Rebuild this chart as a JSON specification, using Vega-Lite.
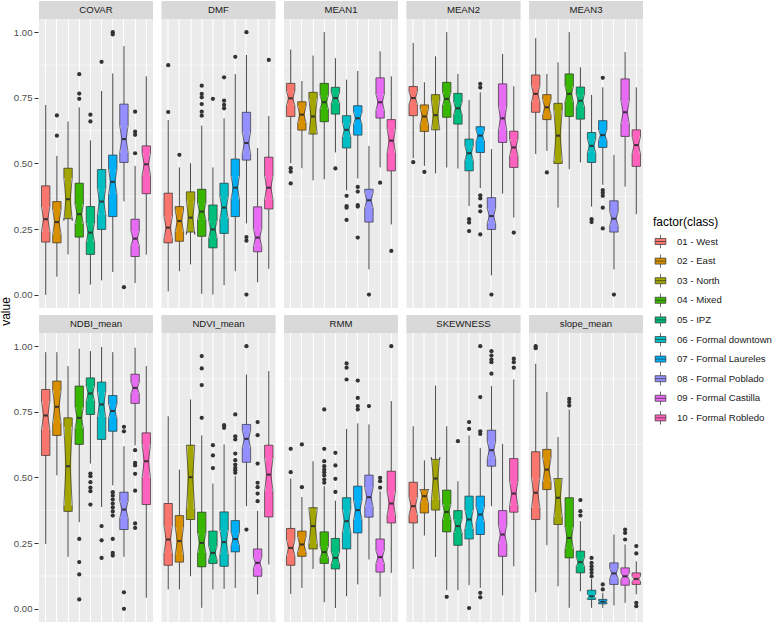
{
  "$schema": "https://vega.github.io/schema/vega-lite/v6.json",
  "padding": {"left": 0, "top": 1, "right": 0, "bottom": 0},
  "title": {"text": "value", "orient": "left", "anchor": "middle", "fontSize": 12, "fontWeight": "normal", "color": "#000000", "offset": 0},
  "data": {"values": [
    {"v":"COVAR","c":"01 - West","lo":0.0,"q1":0.201,"nlo":0.241,"md":0.288,"nhi":0.335,"q3":0.415,"hi":0.723,"out":[]},
    {"v":"COVAR","c":"02 - East","lo":0.069,"q1":0.198,"nlo":0.230,"md":0.277,"nhi":0.324,"q3":0.355,"hi":0.529,"out":[0.683,0.606]},
    {"v":"COVAR","c":"03 - North","lo":0.154,"q1":0.29,"nlo":0.283,"md":0.364,"nhi":0.445,"q3":0.482,"hi":0.66,"out":[]},
    {"v":"COVAR","c":"04 - Mixed","lo":0.004,"q1":0.22,"nlo":0.270,"md":0.307,"nhi":0.344,"q3":0.425,"hi":0.714,"out":[0.84,0.766,0.746]},
    {"v":"COVAR","c":"05 - IPZ","lo":0.039,"q1":0.154,"nlo":0.201,"md":0.237,"nhi":0.273,"q3":0.336,"hi":0.588,"out":[0.686,0.66]},
    {"v":"COVAR","c":"06 - Formal downtown","lo":0.055,"q1":0.249,"nlo":0.305,"md":0.355,"nhi":0.405,"q3":0.477,"hi":0.776,"out":[0.887]},
    {"v":"COVAR","c":"07 - Formal Laureles","lo":0.087,"q1":0.298,"nlo":0.383,"md":0.43,"nhi":0.477,"q3":0.532,"hi":0.843,"out":[1.0,0.991]},
    {"v":"COVAR","c":"08 - Formal Poblado","lo":0.356,"q1":0.504,"nlo":0.542,"md":0.593,"nhi":0.644,"q3":0.726,"hi":0.947,"out":[0.029]},
    {"v":"COVAR","c":"09 - Formal Castilla","lo":0.045,"q1":0.146,"nlo":0.186,"md":0.214,"nhi":0.242,"q3":0.288,"hi":0.491,"out":[0.697,0.621,0.609,0.539]},
    {"v":"COVAR","c":"10 - Formal Robledo","lo":0.153,"q1":0.385,"nlo":0.455,"md":0.497,"nhi":0.539,"q3":0.567,"hi":0.832,"out":[]},

    {"v":"DMF","c":"01 - West","lo":0.013,"q1":0.198,"nlo":0.214,"md":0.256,"nhi":0.298,"q3":0.387,"hi":0.665,"out":[0.874,0.696]},
    {"v":"DMF","c":"02 - East","lo":0.09,"q1":0.204,"nlo":0.241,"md":0.281,"nhi":0.321,"q3":0.336,"hi":0.485,"out":[0.533]},
    {"v":"DMF","c":"03 - North","lo":0.116,"q1":0.239,"nlo":0.230,"md":0.294,"nhi":0.358,"q3":0.392,"hi":0.501,"out":[]},
    {"v":"DMF","c":"04 - Mixed","lo":0.004,"q1":0.223,"nlo":0.285,"md":0.317,"nhi":0.349,"q3":0.402,"hi":0.644,"out":[0.796,0.765,0.752,0.726,0.697,0.682]},
    {"v":"DMF","c":"05 - IPZ","lo":0.001,"q1":0.179,"nlo":0.216,"md":0.249,"nhi":0.282,"q3":0.342,"hi":0.485,"out":[0.746]},
    {"v":"DMF","c":"06 - Formal downtown","lo":0.037,"q1":0.234,"nlo":0.290,"md":0.332,"nhi":0.374,"q3":0.425,"hi":0.672,"out":[0.828,0.739,0.723,0.71]},
    {"v":"DMF","c":"07 - Formal Laureles","lo":0.09,"q1":0.298,"nlo":0.364,"md":0.408,"nhi":0.452,"q3":0.517,"hi":0.84,"out":[0.906]},
    {"v":"DMF","c":"08 - Formal Poblado","lo":0.272,"q1":0.513,"nlo":0.536,"md":0.578,"nhi":0.620,"q3":0.695,"hi":0.913,"out":[1.0,0.22,0.206,0.001]},
    {"v":"DMF","c":"09 - Formal Castilla","lo":0.048,"q1":0.164,"nlo":0.184,"md":0.218,"nhi":0.252,"q3":0.335,"hi":0.559,"out":[]},
    {"v":"DMF","c":"10 - Formal Robledo","lo":0.099,"q1":0.327,"nlo":0.363,"md":0.408,"nhi":0.453,"q3":0.524,"hi":0.681,"out":[0.894]},

    {"v":"MEAN1","c":"01 - West","lo":0.501,"q1":0.679,"nlo":0.720,"md":0.748,"nhi":0.776,"q3":0.805,"hi":0.934,"out":[0.482,0.469,0.424]},
    {"v":"MEAN1","c":"02 - East","lo":0.482,"q1":0.627,"nlo":0.654,"md":0.686,"nhi":0.718,"q3":0.735,"hi":0.814,"out":[]},
    {"v":"MEAN1","c":"03 - North","lo":0.436,"q1":0.612,"nlo":0.612,"md":0.679,"nhi":0.746,"q3":0.771,"hi":0.911,"out":[]},
    {"v":"MEAN1","c":"04 - Mixed","lo":0.44,"q1":0.659,"nlo":0.707,"md":0.733,"nhi":0.759,"q3":0.805,"hi":1.0,"out":[]},
    {"v":"MEAN1","c":"05 - IPZ","lo":0.542,"q1":0.688,"nlo":0.729,"md":0.749,"nhi":0.769,"q3":0.79,"hi":0.901,"out":[0.481]},
    {"v":"MEAN1","c":"06 - Formal downtown","lo":0.398,"q1":0.559,"nlo":0.601,"md":0.628,"nhi":0.655,"q3":0.682,"hi":0.819,"out":[0.377,0.338,0.332,0.285]},
    {"v":"MEAN1","c":"07 - Formal Laureles","lo":0.443,"q1":0.608,"nlo":0.650,"md":0.672,"nhi":0.694,"q3":0.72,"hi":0.852,"out":[0.411,0.393,0.342,0.336,0.218]},
    {"v":"MEAN1","c":"08 - Formal Poblado","lo":0.097,"q1":0.277,"nlo":0.331,"md":0.36,"nhi":0.389,"q3":0.402,"hi":0.567,"out":[0.001]},
    {"v":"MEAN1","c":"09 - Formal Castilla","lo":0.485,"q1":0.673,"nlo":0.702,"md":0.733,"nhi":0.764,"q3":0.826,"hi":0.927,"out":[0.427]},
    {"v":"MEAN1","c":"10 - Formal Robledo","lo":0.268,"q1":0.472,"nlo":0.542,"md":0.587,"nhi":0.632,"q3":0.667,"hi":0.832,"out":[0.167]},

    {"v":"MEAN2","c":"01 - West","lo":0.52,"q1":0.682,"nlo":0.725,"md":0.749,"nhi":0.773,"q3":0.793,"hi":0.959,"out":[0.505]},
    {"v":"MEAN2","c":"02 - East","lo":0.491,"q1":0.622,"nlo":0.649,"md":0.679,"nhi":0.709,"q3":0.723,"hi":0.809,"out":[0.468]},
    {"v":"MEAN2","c":"03 - North","lo":0.462,"q1":0.628,"nlo":0.628,"md":0.684,"nhi":0.740,"q3":0.762,"hi":0.908,"out":[]},
    {"v":"MEAN2","c":"04 - Mixed","lo":0.485,"q1":0.676,"nlo":0.722,"md":0.746,"nhi":0.770,"q3":0.809,"hi":1.0,"out":[]},
    {"v":"MEAN2","c":"05 - IPZ","lo":0.481,"q1":0.65,"nlo":0.687,"md":0.71,"nhi":0.733,"q3":0.767,"hi":0.841,"out":[]},
    {"v":"MEAN2","c":"06 - Formal downtown","lo":0.338,"q1":0.472,"nlo":0.512,"md":0.539,"nhi":0.566,"q3":0.593,"hi":0.742,"out":[0.288,0.275,0.243]},
    {"v":"MEAN2","c":"07 - Formal Laureles","lo":0.406,"q1":0.542,"nlo":0.586,"md":0.606,"nhi":0.626,"q3":0.64,"hi":0.771,"out":[0.803,0.789,0.379,0.367,0.338,0.318,0.23]},
    {"v":"MEAN2","c":"08 - Formal Poblado","lo":0.074,"q1":0.249,"nlo":0.272,"md":0.3,"nhi":0.328,"q3":0.37,"hi":0.555,"out":[0.001]},
    {"v":"MEAN2","c":"09 - Formal Castilla","lo":0.385,"q1":0.58,"nlo":0.627,"md":0.672,"nhi":0.717,"q3":0.803,"hi":0.917,"out":[]},
    {"v":"MEAN2","c":"10 - Formal Robledo","lo":0.294,"q1":0.485,"nlo":0.529,"md":0.561,"nhi":0.593,"q3":0.623,"hi":0.794,"out":[0.237]},

    {"v":"MEAN3","c":"01 - West","lo":0.536,"q1":0.695,"nlo":0.734,"md":0.765,"nhi":0.796,"q3":0.837,"hi":0.977,"out":[]},
    {"v":"MEAN3","c":"02 - East","lo":0.548,"q1":0.667,"nlo":0.685,"md":0.714,"nhi":0.743,"q3":0.762,"hi":0.841,"out":[0.466]},
    {"v":"MEAN3","c":"03 - North","lo":0.332,"q1":0.5,"nlo":0.510,"md":0.606,"nhi":0.702,"q3":0.729,"hi":0.885,"out":[]},
    {"v":"MEAN3","c":"04 - Mixed","lo":0.478,"q1":0.679,"nlo":0.736,"md":0.765,"nhi":0.794,"q3":0.841,"hi":1.0,"out":[]},
    {"v":"MEAN3","c":"05 - IPZ","lo":0.504,"q1":0.669,"nlo":0.715,"md":0.739,"nhi":0.763,"q3":0.791,"hi":0.866,"out":[]},
    {"v":"MEAN3","c":"06 - Formal downtown","lo":0.336,"q1":0.504,"nlo":0.542,"md":0.567,"nhi":0.592,"q3":0.618,"hi":0.761,"out":[0.288,0.277]},
    {"v":"MEAN3","c":"07 - Formal Laureles","lo":0.419,"q1":0.561,"nlo":0.588,"md":0.608,"nhi":0.628,"q3":0.663,"hi":0.79,"out":[0.826,0.399,0.389,0.377,0.332,0.253]},
    {"v":"MEAN3","c":"08 - Formal Poblado","lo":0.097,"q1":0.239,"nlo":0.263,"md":0.29,"nhi":0.317,"q3":0.358,"hi":0.533,"out":[0.001]},
    {"v":"MEAN3","c":"09 - Formal Castilla","lo":0.412,"q1":0.603,"nlo":0.651,"md":0.695,"nhi":0.739,"q3":0.822,"hi":0.924,"out":[]},
    {"v":"MEAN3","c":"10 - Formal Robledo","lo":0.307,"q1":0.489,"nlo":0.538,"md":0.57,"nhi":0.602,"q3":0.628,"hi":0.79,"out":[]},

    {"v":"NDBI_mean","c":"01 - West","lo":0.247,"q1":0.584,"nlo":0.681,"md":0.736,"nhi":0.791,"q3":0.835,"hi":0.977,"out":[]},
    {"v":"NDBI_mean","c":"02 - East","lo":0.508,"q1":0.66,"nlo":0.707,"md":0.769,"nhi":0.831,"q3":0.867,"hi":0.977,"out":[]},
    {"v":"NDBI_mean","c":"03 - North","lo":0.198,"q1":0.371,"nlo":0.393,"md":0.543,"nhi":0.693,"q3":0.727,"hi":0.924,"out":[]},
    {"v":"NDBI_mean","c":"04 - Mixed","lo":0.33,"q1":0.626,"nlo":0.687,"md":0.727,"nhi":0.767,"q3":0.848,"hi":0.99,"out":[0.266,0.178,0.131,0.036]},
    {"v":"NDBI_mean","c":"05 - IPZ","lo":0.553,"q1":0.74,"nlo":0.792,"md":0.82,"nhi":0.848,"q3":0.879,"hi":0.981,"out":[0.515,0.505,0.482,0.461,0.448,0.397]},
    {"v":"NDBI_mean","c":"06 - Formal downtown","lo":0.388,"q1":0.645,"nlo":0.730,"md":0.778,"nhi":0.826,"q3":0.863,"hi":0.997,"out":[0.315,0.261,0.194]},
    {"v":"NDBI_mean","c":"07 - Formal Laureles","lo":0.47,"q1":0.676,"nlo":0.726,"md":0.753,"nhi":0.780,"q3":0.812,"hi":0.977,"out":[0.444,0.431,0.416,0.401,0.386,0.371,0.355,0.266,0.213,0.203]},
    {"v":"NDBI_mean","c":"08 - Formal Poblado","lo":0.198,"q1":0.302,"nlo":0.345,"md":0.378,"nhi":0.411,"q3":0.444,"hi":0.619,"out":[0.693,0.676,0.063,0.0]},
    {"v":"NDBI_mean","c":"09 - Formal Castilla","lo":0.622,"q1":0.782,"nlo":0.819,"md":0.841,"nhi":0.863,"q3":0.893,"hi":0.994,"out":[0.604,0.556,0.546,0.514,0.45,0.325,0.308]},
    {"v":"NDBI_mean","c":"10 - Formal Robledo","lo":0.042,"q1":0.397,"nlo":0.499,"md":0.562,"nhi":0.625,"q3":0.67,"hi":0.924,"out":[]},

    {"v":"NDVI_mean","c":"01 - West","lo":0.074,"q1":0.166,"nlo":0.212,"md":0.264,"nhi":0.316,"q3":0.401,"hi":0.733,"out":[]},
    {"v":"NDVI_mean","c":"02 - East","lo":0.074,"q1":0.178,"nlo":0.205,"md":0.258,"nhi":0.311,"q3":0.355,"hi":0.53,"out":[]},
    {"v":"NDVI_mean","c":"03 - North","lo":0.124,"q1":0.34,"nlo":0.382,"md":0.501,"nhi":0.620,"q3":0.623,"hi":0.797,"out":[]},
    {"v":"NDVI_mean","c":"04 - Mixed","lo":0.004,"q1":0.16,"nlo":0.214,"md":0.251,"nhi":0.288,"q3":0.368,"hi":0.66,"out":[0.962,0.915,0.852,0.727]},
    {"v":"NDVI_mean","c":"05 - IPZ","lo":0.074,"q1":0.173,"nlo":0.188,"md":0.213,"nhi":0.238,"q3":0.296,"hi":0.477,"out":[0.623,0.584,0.536]},
    {"v":"NDVI_mean","c":"06 - Formal downtown","lo":0.076,"q1":0.162,"nlo":0.208,"md":0.254,"nhi":0.300,"q3":0.369,"hi":0.626,"out":[0.699,0.689]},
    {"v":"NDVI_mean","c":"07 - Formal Laureles","lo":0.08,"q1":0.217,"nlo":0.242,"md":0.266,"nhi":0.290,"q3":0.336,"hi":0.505,"out":[0.74,0.657,0.645,0.591,0.566,0.549,0.537,0.528,0.518]},
    {"v":"NDVI_mean","c":"08 - Formal Poblado","lo":0.391,"q1":0.558,"nlo":0.614,"md":0.647,"nhi":0.680,"q3":0.702,"hi":0.892,"out":[1.0,0.302]},
    {"v":"NDVI_mean","c":"09 - Formal Castilla","lo":0.055,"q1":0.124,"nlo":0.154,"md":0.175,"nhi":0.196,"q3":0.228,"hi":0.373,"out":[0.711,0.661,0.553,0.48,0.463,0.439,0.41]},
    {"v":"NDVI_mean","c":"10 - Formal Robledo","lo":0.169,"q1":0.35,"nlo":0.448,"md":0.511,"nhi":0.574,"q3":0.623,"hi":0.905,"out":[]},

    {"v":"RMM","c":"01 - West","lo":0.057,"q1":0.166,"nlo":0.201,"md":0.232,"nhi":0.263,"q3":0.306,"hi":0.496,"out":[0.609,0.52]},
    {"v":"RMM","c":"02 - East","lo":0.08,"q1":0.2,"nlo":0.216,"md":0.245,"nhi":0.274,"q3":0.296,"hi":0.426,"out":[0.626,0.463]},
    {"v":"RMM","c":"03 - North","lo":0.152,"q1":0.228,"nlo":0.249,"md":0.315,"nhi":0.381,"q3":0.385,"hi":0.562,"out":[]},
    {"v":"RMM","c":"04 - Mixed","lo":0.025,"q1":0.173,"nlo":0.194,"md":0.216,"nhi":0.238,"q3":0.293,"hi":0.467,"out":[0.759,0.609,0.562,0.543,0.53,0.52,0.508,0.492,0.48]},
    {"v":"RMM","c":"05 - IPZ","lo":0.003,"q1":0.152,"nlo":0.171,"md":0.194,"nhi":0.217,"q3":0.268,"hi":0.412,"out":[0.594,0.546,0.495,0.445]},
    {"v":"RMM","c":"06 - Formal downtown","lo":0.048,"q1":0.228,"nlo":0.291,"md":0.334,"nhi":0.377,"q3":0.423,"hi":0.685,"out":[0.934,0.918,0.873]},
    {"v":"RMM","c":"07 - Formal Laureles","lo":0.093,"q1":0.289,"nlo":0.340,"md":0.376,"nhi":0.412,"q3":0.467,"hi":0.706,"out":[0.869,0.803,0.772,0.759]},
    {"v":"RMM","c":"08 - Formal Poblado","lo":0.188,"q1":0.349,"nlo":0.388,"md":0.425,"nhi":0.462,"q3":0.509,"hi":0.702,"out":[0.772]},
    {"v":"RMM","c":"09 - Formal Castilla","lo":0.046,"q1":0.14,"nlo":0.172,"md":0.197,"nhi":0.222,"q3":0.266,"hi":0.448,"out":[0.499,0.486,0.461]},
    {"v":"RMM","c":"10 - Formal Robledo","lo":0.137,"q1":0.327,"nlo":0.356,"md":0.401,"nhi":0.446,"q3":0.524,"hi":0.791,"out":[1.0]},

    {"v":"SKEWNESS","c":"01 - West","lo":0.152,"q1":0.327,"nlo":0.357,"md":0.391,"nhi":0.425,"q3":0.482,"hi":0.695,"out":[]},
    {"v":"SKEWNESS","c":"02 - East","lo":0.279,"q1":0.365,"nlo":0.402,"md":0.429,"nhi":0.456,"q3":0.454,"hi":0.565,"out":[]},
    {"v":"SKEWNESS","c":"03 - North","lo":0.197,"q1":0.376,"nlo":0.415,"md":0.496,"nhi":0.577,"q3":0.569,"hi":0.85,"out":[]},
    {"v":"SKEWNESS","c":"04 - Mixed","lo":0.071,"q1":0.293,"nlo":0.340,"md":0.369,"nhi":0.398,"q3":0.452,"hi":0.695,"out":[0.046]},
    {"v":"SKEWNESS","c":"05 - IPZ","lo":0.071,"q1":0.242,"nlo":0.289,"md":0.315,"nhi":0.341,"q3":0.374,"hi":0.486,"out":[0.638]},
    {"v":"SKEWNESS","c":"06 - Formal downtown","lo":0.09,"q1":0.266,"nlo":0.304,"md":0.34,"nhi":0.376,"q3":0.429,"hi":0.66,"out":[0.711,0.685,0.003]},
    {"v":"SKEWNESS","c":"07 - Formal Laureles","lo":0.08,"q1":0.283,"nlo":0.330,"md":0.359,"nhi":0.388,"q3":0.429,"hi":0.613,"out":[1.0,0.806,0.676,0.666,0.061,0.044]},
    {"v":"SKEWNESS","c":"08 - Formal Poblado","lo":0.391,"q1":0.543,"nlo":0.572,"md":0.604,"nhi":0.636,"q3":0.68,"hi":0.848,"out":[0.981,0.964,0.949,0.939,0.895]},
    {"v":"SKEWNESS","c":"09 - Formal Castilla","lo":0.051,"q1":0.2,"nlo":0.248,"md":0.283,"nhi":0.318,"q3":0.374,"hi":0.628,"out":[]},
    {"v":"SKEWNESS","c":"10 - Formal Robledo","lo":0.162,"q1":0.368,"nlo":0.392,"md":0.439,"nhi":0.486,"q3":0.572,"hi":0.873,"out":[0.952,0.939,0.918]},

    {"v":"slope_mean","c":"01 - West","lo":0.063,"q1":0.34,"nlo":0.385,"md":0.442,"nhi":0.499,"q3":0.598,"hi":0.933,"out":[1.0,0.992]},
    {"v":"slope_mean","c":"02 - East","lo":0.242,"q1":0.454,"nlo":0.484,"md":0.53,"nhi":0.576,"q3":0.607,"hi":0.825,"out":[]},
    {"v":"slope_mean","c":"03 - North","lo":0.086,"q1":0.321,"nlo":0.349,"md":0.423,"nhi":0.497,"q3":0.496,"hi":0.654,"out":[]},
    {"v":"slope_mean","c":"04 - Mixed","lo":0.004,"q1":0.194,"nlo":0.229,"md":0.27,"nhi":0.311,"q3":0.423,"hi":0.759,"out":[0.799,0.787,0.774]},
    {"v":"slope_mean","c":"05 - IPZ","lo":0.067,"q1":0.137,"nlo":0.161,"md":0.178,"nhi":0.195,"q3":0.22,"hi":0.334,"out":[0.414,0.372,0.355]},
    {"v":"slope_mean","c":"06 - Formal downtown","lo":0.004,"q1":0.036,"nlo":0.040,"md":0.048,"nhi":0.056,"q3":0.071,"hi":0.114,"out":[0.194,0.175,0.162,0.15,0.137,0.124]},
    {"v":"slope_mean","c":"07 - Formal Laureles","lo":0.004,"q1":0.019,"nlo":0.024,"md":0.027,"nhi":0.030,"q3":0.036,"hi":0.061,"out":[0.093,0.074]},
    {"v":"slope_mean","c":"08 - Formal Poblado","lo":0.013,"q1":0.093,"nlo":0.116,"md":0.135,"nhi":0.154,"q3":0.175,"hi":0.283,"out":[]},
    {"v":"slope_mean","c":"09 - Formal Castilla","lo":0.023,"q1":0.09,"nlo":0.111,"md":0.124,"nhi":0.137,"q3":0.156,"hi":0.245,"out":[0.302,0.289,0.264]},
    {"v":"slope_mean","c":"10 - Formal Robledo","lo":0.055,"q1":0.093,"nlo":0.104,"md":0.114,"nhi":0.124,"q3":0.137,"hi":0.181,"out":[0.239,0.211,0.023,0.01]}
  ]},
  "facet": {
    "field": "v", "type": "nominal",
    "sort": ["COVAR","DMF","MEAN1","MEAN2","MEAN3","NDBI_mean","NDVI_mean","RMM","SKEWNESS","slope_mean"],
    "title": null,
    "header": {"labels": false, "title": null, "labelFontSize": 0, "labelPadding": 0, "labelExpr": "''"}
  },
  "columns": 5,
  "spacing": {"row": 7, "column": 6.5},
  "spec": {
    "width": 114,
    "height": 307,
    "layer": [
      {"transform": [{"filter": "datum.c == '01 - West'"}],
       "mark": {"type": "rule", "color": "white", "strokeWidth": 0.55},
       "encoding": {"y": {"datum": 0.125, "type": "quantitative", "title": null}}},
      {"transform": [{"filter": "datum.c == '01 - West'"}],
       "mark": {"type": "rule", "color": "white", "strokeWidth": 0.55},
       "encoding": {"y": {"datum": 0.375, "type": "quantitative", "title": null}}},
      {"transform": [{"filter": "datum.c == '01 - West'"}],
       "mark": {"type": "rule", "color": "white", "strokeWidth": 0.55},
       "encoding": {"y": {"datum": 0.625, "type": "quantitative", "title": null}}},
      {"transform": [{"filter": "datum.c == '01 - West'"}],
       "mark": {"type": "rule", "color": "white", "strokeWidth": 0.55},
       "encoding": {"y": {"datum": 0.875, "type": "quantitative", "title": null}}},
      {"mark": {"type": "rule", "color": "#333333", "strokeWidth": 0.9},
       "encoding": {
         "x": {"field": "c", "type": "nominal", "sort": null,
               "scale": {"paddingInner": 0.25, "paddingOuter": 0.225},
               "axis": {"labels": false, "ticks": false, "domain": false, "title": null, "grid": true, "bandPosition": 0.5}},
         "y": {"field": "lo", "type": "quantitative", "title": null,
               "scale": {"domain": [-0.05, 1.1185], "nice": false, "zero": false},
               "axis": {"values": [0, 0.25, 0.5, 0.75, 1], "format": ".2f", "title": null}},
         "y2": {"field": "hi"}
       }},
      {"mark": {"type": "bar", "width": {"band": 0.75}},
       "encoding": {
         "x": {"field": "c", "type": "nominal", "sort": null},
         "y": {"field": "q1", "type": "quantitative", "title": null},
         "y2": {"field": "q3"},
         "fill": {"field": "c", "type": "nominal", "sort": null,
                  "scale": {"domain": ["01 - West","02 - East","03 - North","04 - Mixed","05 - IPZ","06 - Formal downtown","07 - Formal Laureles","08 - Formal Poblado","09 - Formal Castilla","10 - Formal Robledo"],
                            "range": ["#F8766D","#D89000","#A3A500","#39B600","#00BF7D","#00BFC4","#00B0F6","#9590FF","#E76BF3","#FF62BC"]},
                  "legend": {"title": "factor(class)", "orient": "none", "legendX": 614, "legendY": 216,
                             "symbolType": "M-0.8,-0.45H0.8V0.45H-0.8Z M-0.8,0H0.8 M0,-0.45V-1 M0,0.45V1",
                             "symbolSize": 180, "symbolStrokeColor": "#333333", "symbolStrokeWidth": 0.7,
                             "rowPadding": 2.6, "labelFontSize": 9.6, "titleFontSize": 12, "titleFontWeight": "normal",
                             "titleColor": "#000000", "labelColor": "#1A1A1A", "titlePadding": 5, "labelOffset": 9}}
       }},
      {"transform": [{"filter": "datum.nlo > datum.q1"}],
       "mark": {"type": "bar"},
       "encoding": {
         "x": {"field": "c", "type": "nominal", "sort": null},
         "y": {"field": "q1", "type": "quantitative", "title": null},
         "y2": {"field": "nlo"},
         "fill": {"field": "c", "type": "nominal", "sort": null}
       }},
      {"transform": [{"filter": "datum.nhi < datum.q3"}],
       "mark": {"type": "bar"},
       "encoding": {
         "x": {"field": "c", "type": "nominal", "sort": null},
         "y": {"field": "nhi", "type": "quantitative", "title": null},
         "y2": {"field": "q3"},
         "fill": {"field": "c", "type": "nominal", "sort": null}
       }},
      {"mark": {"type": "rule", "color": "#333333", "strokeWidth": 0.7},
       "encoding": {"x": {"field": "c", "type": "nominal", "sort": null, "bandPosition": 0},
                    "y": {"field": "q1", "type": "quantitative", "title": null}, "y2": {"field": "nlo"}}},
      {"mark": {"type": "rule", "color": "#333333", "strokeWidth": 0.7},
       "encoding": {"x": {"field": "c", "type": "nominal", "sort": null, "bandPosition": 0},
                    "y": {"field": "nhi", "type": "quantitative", "title": null}, "y2": {"field": "q3"}}},
      {"mark": {"type": "rule", "color": "#333333", "strokeWidth": 0.7},
       "encoding": {"x": {"field": "c", "type": "nominal", "sort": null, "bandPosition": 1},
                    "y": {"field": "q1", "type": "quantitative", "title": null}, "y2": {"field": "nlo"}}},
      {"mark": {"type": "rule", "color": "#333333", "strokeWidth": 0.7},
       "encoding": {"x": {"field": "c", "type": "nominal", "sort": null, "bandPosition": 1},
                    "y": {"field": "nhi", "type": "quantitative", "title": null}, "y2": {"field": "q3"}}},
      {"mark": {"type": "rule", "color": "#333333", "strokeWidth": 0.7},
       "encoding": {"x": {"field": "c", "type": "nominal", "sort": null, "bandPosition": 0},
                    "x2": {"field": "c", "bandPosition": 0.25},
                    "y": {"field": "nlo", "type": "quantitative", "title": null}, "y2": {"field": "md"}}},
      {"mark": {"type": "rule", "color": "#333333", "strokeWidth": 0.7},
       "encoding": {"x": {"field": "c", "type": "nominal", "sort": null, "bandPosition": 0.25},
                    "x2": {"field": "c", "bandPosition": 0},
                    "y": {"field": "md", "type": "quantitative", "title": null}, "y2": {"field": "nhi"}}},
      {"mark": {"type": "rule", "color": "#333333", "strokeWidth": 0.7},
       "encoding": {"x": {"field": "c", "type": "nominal", "sort": null, "bandPosition": 1},
                    "x2": {"field": "c", "bandPosition": 0.75},
                    "y": {"field": "nlo", "type": "quantitative", "title": null}, "y2": {"field": "md"}}},
      {"mark": {"type": "rule", "color": "#333333", "strokeWidth": 0.7},
       "encoding": {"x": {"field": "c", "type": "nominal", "sort": null, "bandPosition": 0.75},
                    "x2": {"field": "c", "bandPosition": 1},
                    "y": {"field": "md", "type": "quantitative", "title": null}, "y2": {"field": "nhi"}}},
      {"mark": {"type": "rule", "color": "#333333", "strokeWidth": 0.7},
       "encoding": {"x": {"field": "c", "type": "nominal", "sort": null, "bandPosition": 0},
                    "x2": {"field": "c", "bandPosition": 1},
                    "y": {"field": "q1", "type": "quantitative", "title": null}}},
      {"mark": {"type": "rule", "color": "#333333", "strokeWidth": 0.7},
       "encoding": {"x": {"field": "c", "type": "nominal", "sort": null, "bandPosition": 0},
                    "x2": {"field": "c", "bandPosition": 1},
                    "y": {"field": "q3", "type": "quantitative", "title": null}}},
      {"mark": {"type": "rule", "color": "#333333", "strokeWidth": 2},
       "encoding": {"x": {"field": "c", "type": "nominal", "sort": null, "bandPosition": 0.25},
                    "x2": {"field": "c", "bandPosition": 0.75},
                    "y": {"field": "md", "type": "quantitative", "title": null}}},
      {"transform": [{"flatten": ["out"]}],
       "mark": {"type": "point", "filled": true, "color": "#333333", "opacity": 1, "size": 18},
       "encoding": {
         "x": {"field": "c", "type": "nominal", "sort": null},
         "y": {"field": "out", "type": "quantitative", "title": null}
       }},
      {"transform": [{"filter": "datum.c == '01 - West'"}],
       "mark": {"type": "rect", "fill": "#D9D9D9"},
       "encoding": {"y": {"datum": 1.05, "type": "quantitative", "title": null}, "y2": {"datum": 1.1185}}},
      {"transform": [{"filter": "datum.c == '01 - West'"}],
       "mark": {"type": "text", "color": "#1A1A1A", "fontSize": 9.6, "baseline": "middle", "align": "center"},
       "encoding": {"y": {"datum": 1.084, "type": "quantitative", "title": null}, "text": {"field": "v"}}}
    ]
  },
  "config": {
    "font": "Liberation Sans",
    "view": {"fill": "#EBEBEB", "stroke": null},
    "header": {"labels": false, "title": null, "labelFontSize": 0, "labelPadding": 0},
    "axis": {"gridColor": "#FFFFFF", "gridWidth": 1.1, "domain": false, "tickColor": "#333333", "tickSize": 4,
             "labelColor": "#4D4D4D", "labelFontSize": 9.6, "labelPadding": 2, "titleFontSize": 12, "titleFontWeight": "normal",
             "titleColor": "#000000", "titlePadding": 4}
  }
}
